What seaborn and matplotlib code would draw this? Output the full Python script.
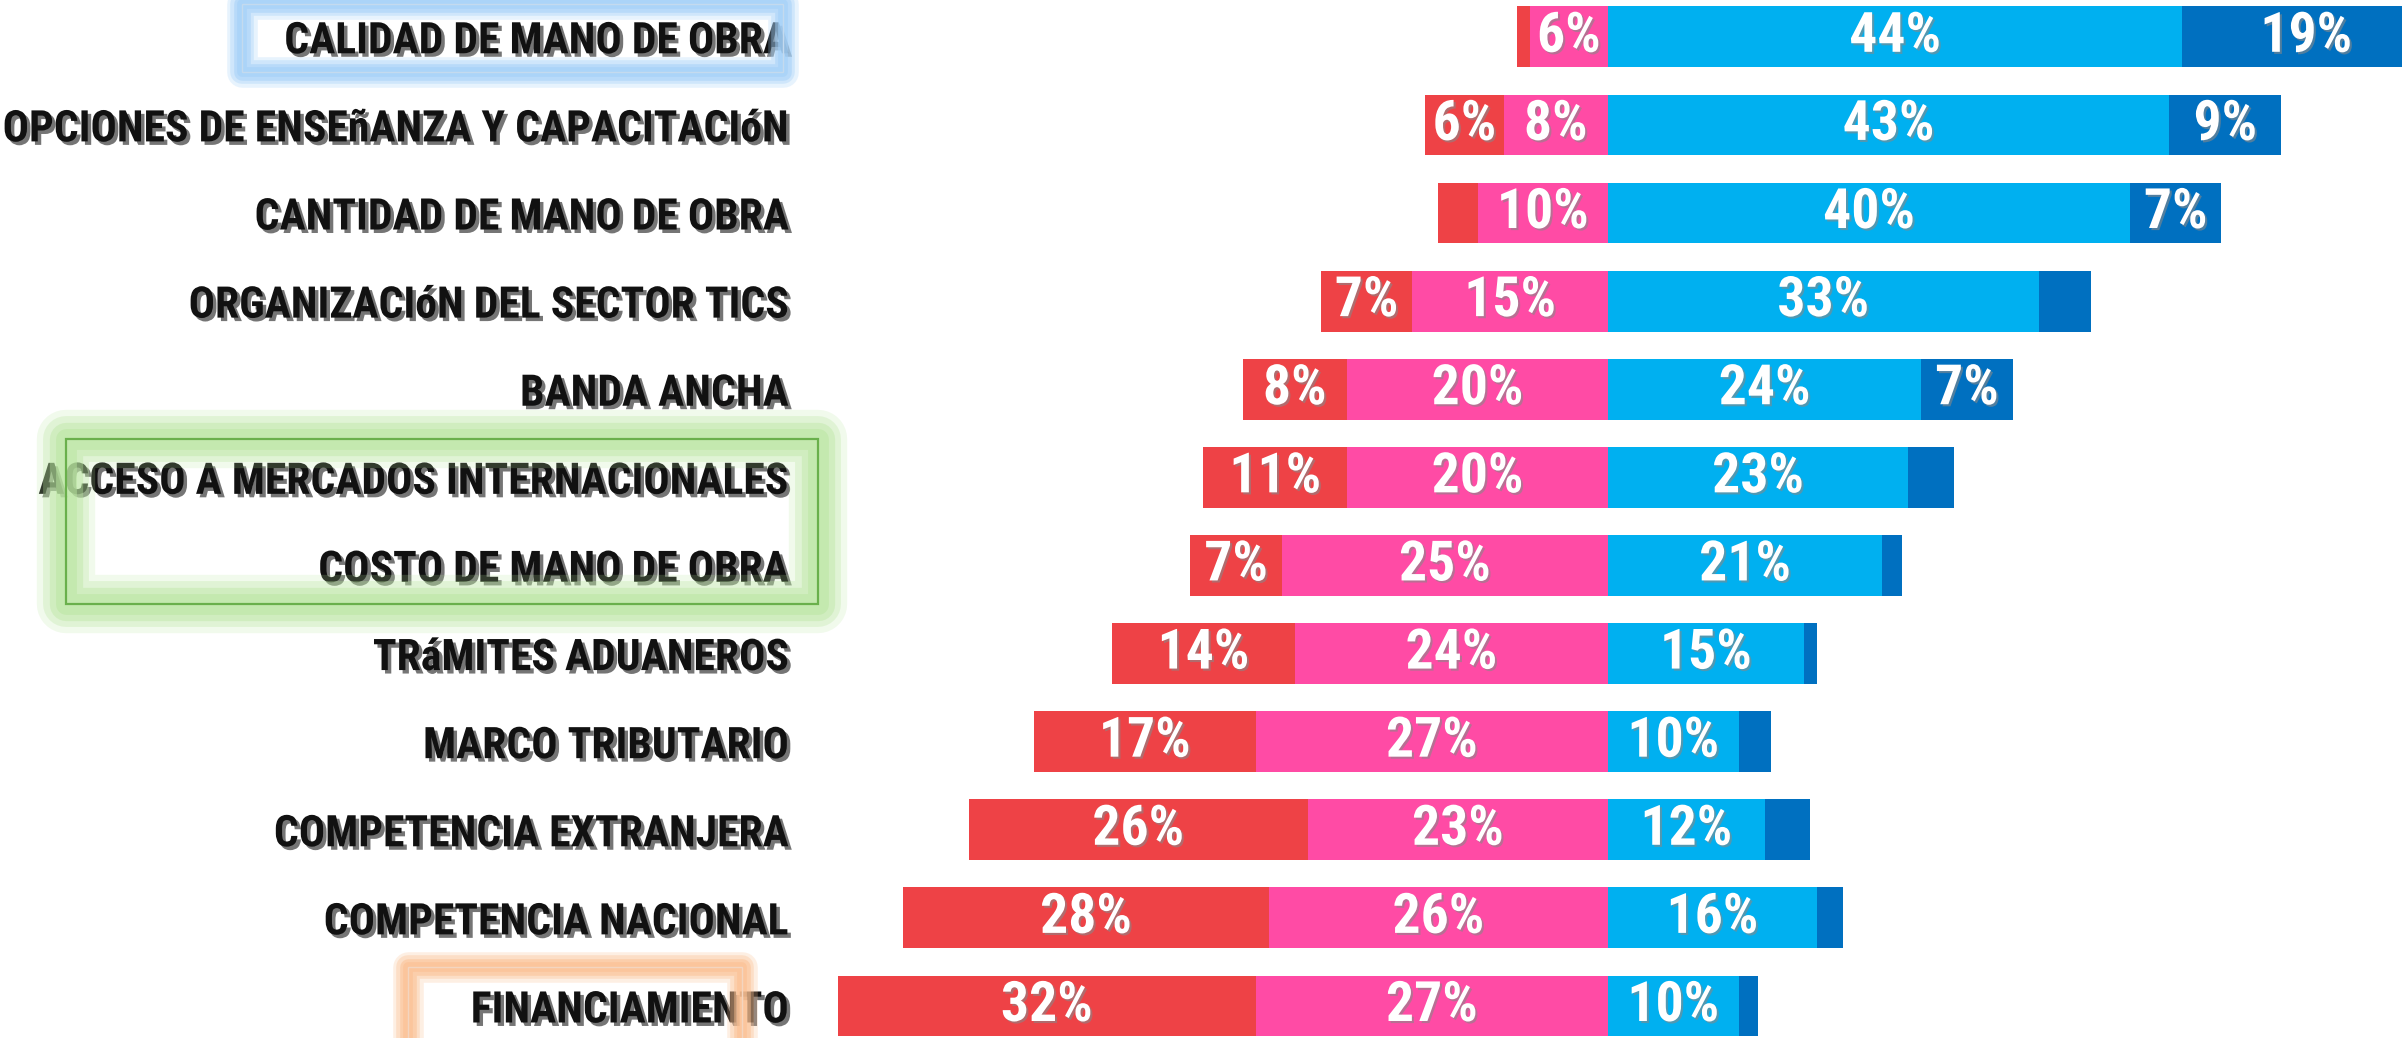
"""Diverging stacked bars: percepcion de factores del sector TIC."""

import matplotlib

matplotlib.use("Agg")
import matplotlib.patheffects as pe
import matplotlib.pyplot as plt
import pandas as pd
import seaborn as sns
from matplotlib import font_manager as fm
from matplotlib.patches import Rectangle

# Data (% of respondents)
factores = [
    "CALIDAD DE MANO DE OBRA",
    "OPCIONES DE ENSEñANZA Y CAPACITACIóN",
    "CANTIDAD DE MANO DE OBRA",
    "ORGANIZACIóN DEL SECTOR TICS",
    "BANDA ANCHA",
    "ACCESO A MERCADOS INTERNACIONALES",
    "COSTO DE MANO DE OBRA",
    "TRáMITES ADUANEROS",
    "MARCO TRIBUTARIO",
    "COMPETENCIA EXTRANJERA",
    "COMPETENCIA NACIONAL",
    "FINANCIAMIENTO",
]
muy_negativo = [1, 6, 3, 7, 8, 11, 7, 14, 17, 26, 28, 32]
negativo = [6, 8, 10, 15, 20, 20, 25, 24, 27, 23, 26, 27]
positivo = [44, 43, 40, 33, 24, 23, 21, 15, 10, 12, 16, 10]
muy_positivo = [19, 8.6, 7, 4, 7, 3.5, 1.5, 1, 2.5, 3.5, 2, 1.5]

RED = "#EE4246"
PINK = "#FF4BA5"
LIGHT_BLUE = "#00B0F0"
DARK_BLUE = "#0070C0"

W, H = 2402, 1038
ZERO_PX = 1608  # where the zero line sits
PX_PER_PCT = 13.05
AX_LEFT = 800

sns.set_style("white")

# pick a narrow face if one is installed
available = {f.name for f in fm.fontManager.ttflist}


def pick(cands, default="DejaVu Sans"):
    for c in cands:
        if c in available:
            return c
    return default


narrow = pick(["Liberation Sans Narrow", "Roboto Condensed", "Open Sans Condensed",
               "DejaVu Sans Condensed"])
plt.rcParams["font.family"] = [narrow, "DejaVu Sans"]

df = pd.DataFrame({
    "factor": factores,
    "muy_negativo": muy_negativo,
    "negativo": negativo,
    "positivo": positivo,
    "muy_positivo": muy_positivo,
})
df["izq_total"] = -(df["muy_negativo"] + df["negativo"])
df["izq_neg"] = -df["negativo"]
df["der_total"] = df["positivo"] + df["muy_positivo"]

fig = plt.figure(figsize=(W / 100, H / 100), dpi=100)
ax = fig.add_axes([AX_LEFT / W, 0, 1 - AX_LEFT / W, 1])

# longest segments first, shorter ones painted on top
layers = [("izq_total", RED), ("izq_neg", PINK), ("der_total", DARK_BLUE), ("positivo", LIGHT_BLUE)]
for col, color in layers:
    sns.barplot(data=df, x=col, y="factor", color=color, width=0.69, saturation=1,
                linewidth=0, errorbar=None, ax=ax)

ax.set_xlim((AX_LEFT - ZERO_PX) / PX_PER_PCT, (W - ZERO_PX) / PX_PER_PCT)
ax.set_ylim(11 + (H - 1006) / 88.1, -36.8 / 88.1)
ax.set_xticks([])
ax.set_xlabel("")
ax.set_ylabel("")
sns.despine(ax=ax, left=True, bottom=True)
ax.tick_params(axis="y", length=0, pad=8)

label_fx = [pe.withSimplePatchShadow(offset=(2.5, -2.5), shadow_rgbFace="#666666", alpha=0.9)]
for lbl in ax.get_yticklabels():
    lbl.set_fontweight("bold")
    lbl.set_fontstretch("condensed")
    lbl.set_color("#111111")
    lbl.set_fontsize(24)
    lbl.set_path_effects(label_fx)

# value labels, centred on each segment
value_fx = [pe.withSimplePatchShadow(offset=(1.5, -1.5), shadow_rgbFace="#888888", alpha=0.6)]
value_texts = []
for i, row in df.iterrows():
    segs = [
        (row["muy_negativo"], -(row["negativo"] + row["muy_negativo"] / 2)),
        (row["negativo"], -row["negativo"] / 2),
        (row["positivo"], row["positivo"] / 2),
        (row["muy_positivo"], row["positivo"] + row["muy_positivo"] / 2),
    ]
    for val, xc in segs:
        if val < 5:
            continue
        t = ax.text(xc, i, f"{round(val)}%", ha="center", va="center", color="white",
                    fontsize=24, fontweight="bold", fontstretch="condensed",
                    path_effects=value_fx)
        value_texts.append(t)

# scale fonts so widths match the reference
fig.canvas.draw()
r = fig.canvas.get_renderer()
ref_lbl = ax.get_yticklabels()[0]
k = 505 / ref_lbl.get_window_extent(r).width
for lbl in ax.get_yticklabels():
    lbl.set_fontsize(24 * k)
ref_val = value_texts[1]  # "44%"
k2 = 1.18 * 78 / ref_val.get_window_extent(r).width
for t in value_texts:
    t.set_fontsize(24 * k2)


def glow_box(x0, y0, x1, y1, glow, line=None, line_w=1.0, widths=(22, 17, 12, 7),
             alphas=(0.25, 0.35, 0.5, 0.6)):
    # soft highlight frame, coordinates in pixels from the top-left corner
    xy = (x0 / W, 1 - y1 / H)
    w, h = (x1 - x0) / W, (y1 - y0) / H
    for lw, a in zip(widths, alphas):
        fig.add_artist(Rectangle(xy, w, h, transform=fig.transFigure, fill=False,
                                 edgecolor=glow, linewidth=lw, alpha=a,
                                 joinstyle="round", zorder=5))
    if line:
        fig.add_artist(Rectangle(xy, w, h, transform=fig.transFigure, fill=False,
                                 edgecolor=line, linewidth=line_w, zorder=6))


glow_box(242, 4, 783, 72, "#A3D0F8", line="#C4DAEE")
glow_box(66, 439, 818, 604, "#B9E6A0", line="#6AB04C", line_w=1.6,
         widths=(42, 33, 24, 15), alphas=(0.2, 0.3, 0.4, 0.5))
glow_box(408, 967, 742, 1070, "#FBC092", line="#F3D5C0")

fig.savefig("out.png", dpi=100)
